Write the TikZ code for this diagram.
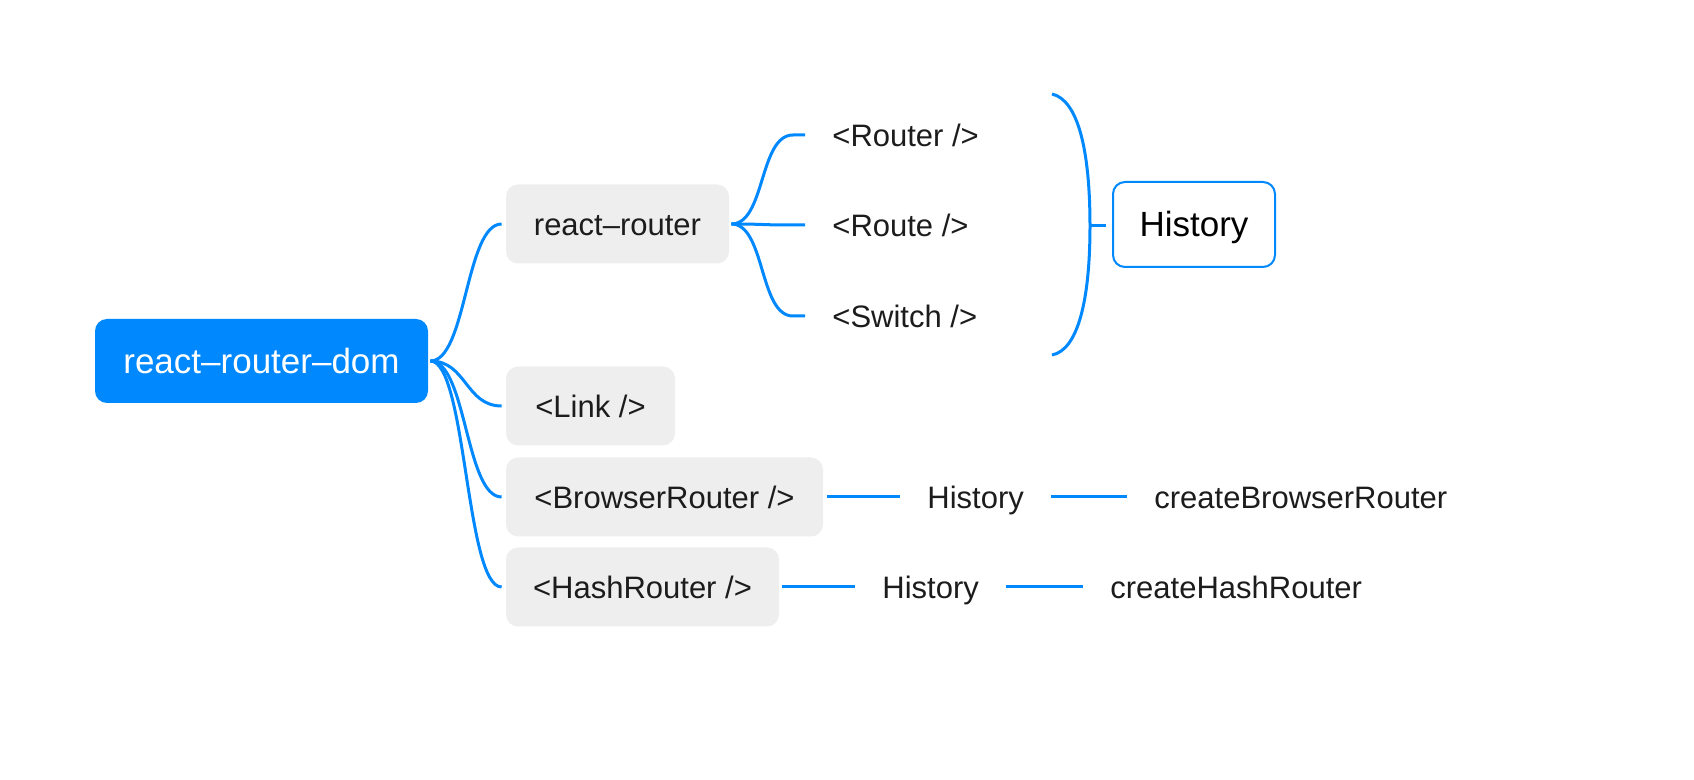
\documentclass[tikz,border=0pt]{standalone}
\usepackage{fontspec}
\setmainfont{Liberation Sans}
\usepackage{tikz}
\definecolor{mapblue}{RGB}{0,136,255}
\definecolor{mapgray}{RGB}{238,238,238}
\definecolor{maptext}{RGB}{28,28,28}

\begin{document}
\begin{tikzpicture}[x=0.5pt,y=-0.5pt,
	bigfont/.style={font=\fontsize{17.5}{20}\selectfont,text height=12.5pt,text depth=0pt},
	smallfont/.style={font=\fontsize{15.5}{18}\selectfont,text height=11.1pt,text depth=0pt},
	rootbox/.style={bigfont,fill=mapblue,text=white,rounded corners=6pt,minimum height=42pt},
	subbox/.style={smallfont,fill=mapgray,text=maptext,rounded corners=6pt,minimum height=39.5pt},
	leaf/.style={smallfont,text=maptext,inner xsep=13.5pt,anchor=west},
	histbox/.style={bigfont,draw=mapblue,line width=1pt,fill=white,rounded corners=6pt,minimum width=81pt,minimum height=42.5pt,text=black},
	link/.style={draw=mapblue,line width=1.5pt}]
\useasboundingbox (0,0) rectangle (1694,780);

\node[rootbox,minimum width=166.5pt] (root) at (261.5,361) {react–router–dom};

\node[subbox,minimum width=111.5pt] (rr) at (617.5,224) {react–router};
\node[subbox,minimum width=84.5pt] (lk) at (590.5,406) {<Link />};
\node[subbox,minimum width=158.5pt] (br) at (664.5,497) {<BrowserRouter />};
\node[subbox,minimum width=136.5pt] (hr) at (642.5,587) {<HashRouter />};

\node[leaf] (rt) at (805,135) {<Router />};
\node[leaf] (ro) at (805,225) {<Route />};
\node[leaf] (sw) at (805,316) {<Switch />};

\node[histbox] (hist) at (1194,224.5) {History};

\node[leaf] (bh) at (900,497) {History};
\node[leaf] (bc) at (1127,497) {createBrowserRouter};
\node[leaf] (hh) at (855,587) {History};
\node[leaf] (hc) at (1083,587) {createHashRouter};

\foreach \n in {rr,lk,br,hr}
{
	\draw[link] ([xshift=1pt]root.east) .. controls +(36,0) and +(-36,0) .. ([xshift=-2pt]\n.west);
}

\foreach \n in {rt,ro,sw}
{
	\draw[link] ([xshift=1pt]rr.east) .. controls +(34,0) and +(-34,0) .. ([xshift=-6pt]\n.west) -- (\n.west);
}

\coordinate (brtop) at (1052,94);
\coordinate (brmid) at (1090,226);
\coordinate (brbot) at (1052,355);
\draw[link] (brtop) .. controls (1078,100) and (1090,150) .. (brmid) .. controls (1090,300) and (1078,350) .. (brbot);
\draw[link,shorten >=3pt] (brmid) -- (brmid -| hist.west);

\draw[link,shorten <=2pt] (br.east) -- (bh.west);
\draw[link] (bh.east) -- (bc.west);
\draw[link,shorten <=1.5pt] (hr.east) -- (hh.west);
\draw[link] (hh.east) -- (hc.west);

\end{tikzpicture}
\end{document}
